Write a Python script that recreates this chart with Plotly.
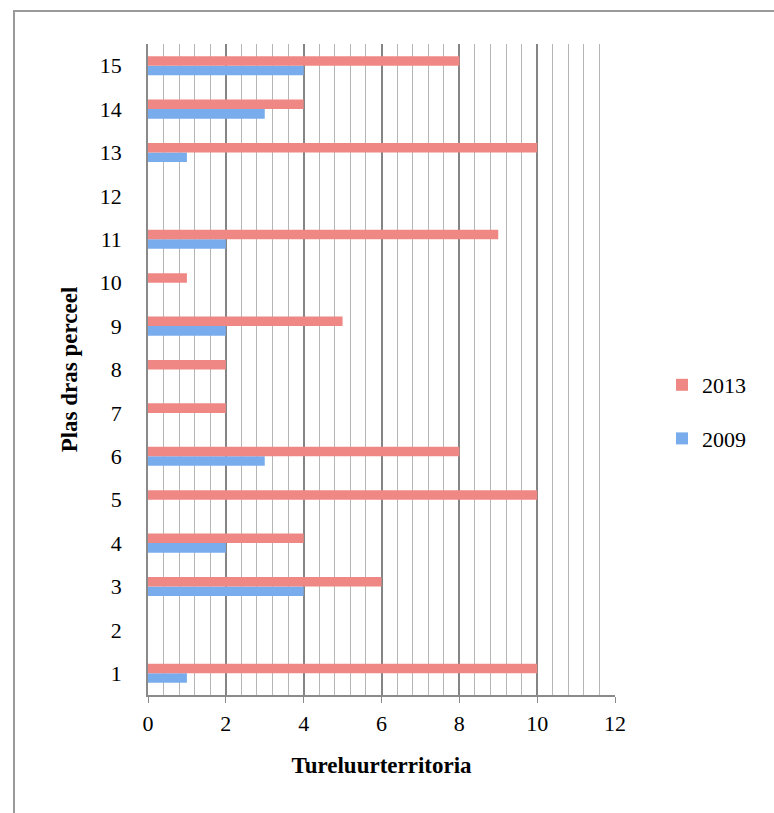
import plotly.graph_objects as go

categories = [str(i) for i in range(1, 16)]
values_2009 = [1, 0, 4, 2, 0, 3, 0, 0, 2, 0, 2, 0, 1, 3, 4]
values_2013 = [10, 0, 6, 4, 10, 8, 2, 2, 5, 1, 9, 0, 10, 4, 8]
x_ticks = [0, 2, 4, 6, 8, 10, 12]

FONT = "Liberation Serif"

fig = go.Figure()
fig.add_trace(go.Bar(
    y=categories, x=values_2009, name="2009", orientation="h",
    marker=dict(color="#79acec", line=dict(width=0)),
    legendgroup="a", legendrank=2,
))
fig.add_trace(go.Bar(
    y=categories, x=values_2013, name="2013", orientation="h",
    marker=dict(color="#ef8884", line=dict(width=0)),
    legendgroup="b", legendrank=1,
))

L, R, T, B = 148, 159, 44, 118
W, H = 774, 813
pw, ph = W - L - R, H - T - B

def px(x):
    return (x - L) / pw

def py(y):
    return (H - B - y) / ph

fig.update_layout(
    width=W, height=H,
    margin=dict(l=L, r=R, t=T, b=B, pad=0),
    paper_bgcolor="white", plot_bgcolor="white",
    barmode="group", bargap=0.56, bargroupgap=0,
    font=dict(family=FONT, size=22, color="black"),
    legend=dict(
        x=px(662), y=py(412), xanchor="left", yanchor="middle",
        traceorder="grouped", tracegroupgap=22,
        font=dict(family=FONT, size=22), itemwidth=30,
        bgcolor="rgba(0,0,0,0)",
    ),
    xaxis=dict(
        range=[0, 12], tickvals=x_ticks, ticktext=[str(v) for v in x_ticks],
        showgrid=True, gridcolor="#858585", gridwidth=1.5,
        minor=dict(dtick=0.4, showgrid=True, gridcolor="#b5b5b5", gridwidth=1,
                   ticks=""),
        showline=True, linecolor="#8a8a8a", linewidth=1.5,
        ticks="outside", ticklen=6, tickcolor="#8a8a8a",
        zeroline=False, fixedrange=True, ticklabelstandoff=2,
        title=dict(text="<b>Tureluurterritoria</b>", standoff=22,
                   font=dict(family=FONT, size=23)),
    ),
    yaxis=dict(
        categoryorder="array", categoryarray=categories,
        showgrid=False, showline=True, linecolor="#8a8a8a", linewidth=1.5,
        ticks="", ticklabelstandoff=20,
        title=dict(text="<b>Plas dras perceel</b>", standoff=16,
                   font=dict(family=FONT, size=23)),
        fixedrange=True,
    ),
    shapes=[dict(
        type="rect", xref="paper", yref="paper",
        x0=px(14), x1=px(W + 20), y0=py(H + 20), y1=py(11),
        line=dict(color="#9a9a9a", width=2), fillcolor="rgba(0,0,0,0)",
        layer="below",
    )],
)

fig.write_html("out.html")
